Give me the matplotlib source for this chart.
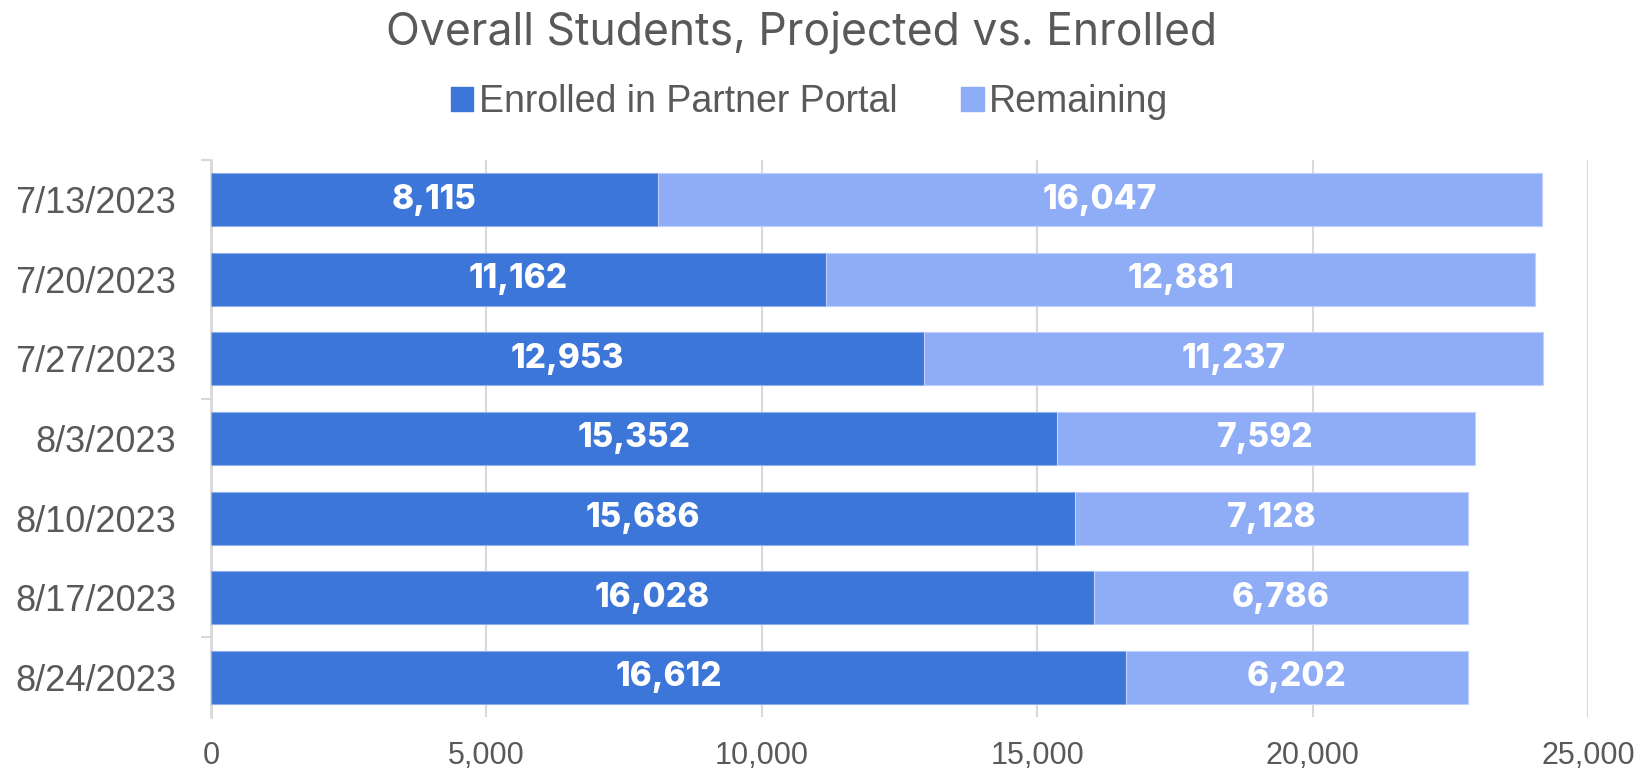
import matplotlib.pyplot as plt
from matplotlib.patches import Patch

dates = ['7/13/2023', '7/20/2023', '7/27/2023', '8/3/2023', '8/10/2023', '8/17/2023', '8/24/2023']
enrolled = [8115, 11162, 12953, 15352, 15686, 16028, 16612]
remaining = [16047, 12881, 11237, 7592, 7128, 6786, 6202]
x_ticks = [0, 5000, 10000, 15000, 20000, 25000]

dark = '#3b76d8'
light = '#8fadf7'
grey_txt = '#595959'
grid_col = '#d9d9d9'

fig = plt.figure(figsize=(16.52, 7.72), dpi=100)
ax = fig.add_axes([211/1652, 1 - 717/772, (1588 - 211)/1652, (717 - 160)/772])

y = list(range(len(dates)))
b1 = ax.barh(y, enrolled, height=0.667, color=dark, edgecolor='#8fb0ee', linewidth=0.8, zorder=3)
b2 = ax.barh(y, remaining, left=enrolled, height=0.667, color=light, edgecolor='#c0d0fb', linewidth=0.8, zorder=3)

lab_font = dict(family=['Inter', 'DejaVu Sans'], weight=800, size=24, color='white')
for bars in (b1, b2):
    ax.bar_label(bars, labels=[f'{int(b.get_width()):,}' for b in bars],
                 label_type='center', **lab_font, zorder=4)

ax.set_xlim(0, 25000)
ax.set_ylim(len(dates) - 0.5, -0.5)
ax.set_xticks(x_ticks)
ax.set_xticklabels([f'{v:,}' for v in x_ticks])
ax.set_yticks(y)
ax.set_yticklabels(dates)
ax.set_yticks([-0.5, 2.5, 5.5], minor=True)

for lbl in ax.get_xticklabels():
    lbl.set_fontfamily('Liberation Sans')
for lbl in ax.get_yticklabels():
    lbl.set_fontfamily('Liberation Sans')
ax.tick_params(axis='x', length=0, pad=17, labelsize=22, labelcolor=grey_txt)
ax.tick_params(axis='y', which='major', length=0, pad=25, labelsize=26, labelcolor=grey_txt)
ax.tick_params(axis='y', which='minor', length=7.5, width=1.5, color=grid_col)

ax.grid(axis='x', color=grid_col, linewidth=1.5, zorder=0)
for s in ('top', 'right', 'bottom'):
    ax.spines[s].set_visible(False)
ax.spines['left'].set_color(grid_col)
ax.spines['left'].set_linewidth(2)

fig.text(0.4855, 0.958, 'Overall Students, Projected vs. Enrolled', ha='center', va='center',
         fontsize=32, color=grey_txt, family=['Inter', 'DejaVu Sans'], fontweight='normal')

handles = [Patch(color=dark, label='Enrolled in Partner Portal'),
           Patch(color=light, label='Remaining')]
fig.legend(handles=handles, loc='center', bbox_to_anchor=(0.49, 0.868), ncol=2, frameon=False,
           prop={'family': 'Liberation Sans', 'size': 27}, labelcolor=grey_txt,
           handlelength=0.6, handleheight=0.6, handletextpad=0.15, columnspacing=1.7)

fig.savefig('out.png', dpi=100)
